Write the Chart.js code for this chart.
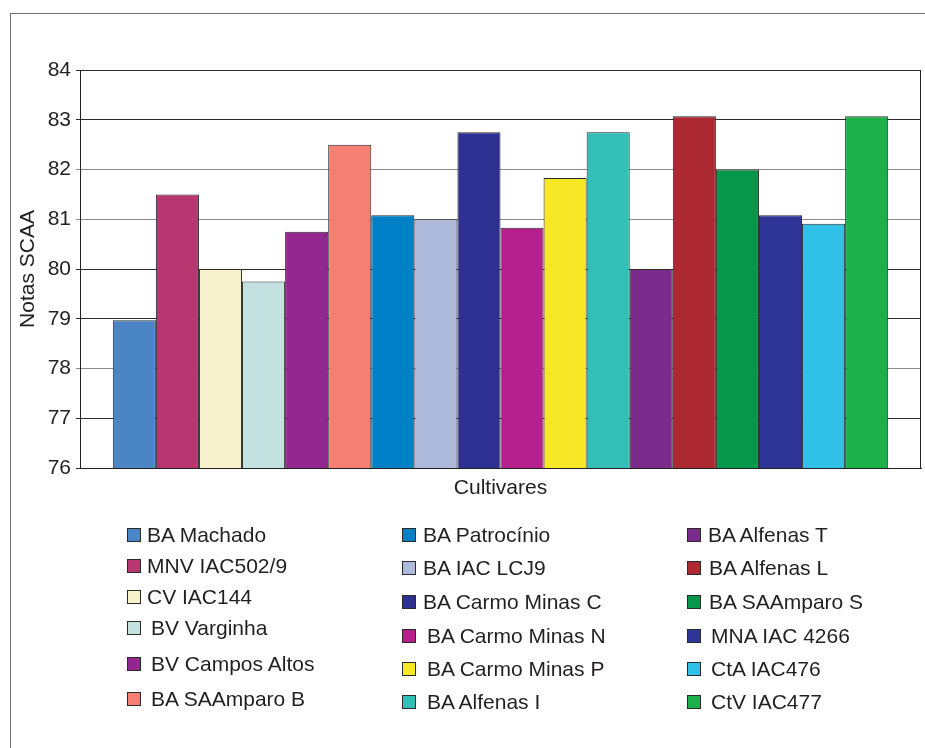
<!DOCTYPE html>
<html lang="pt">
<head>
<meta charset="utf-8">
<title>Notas SCAA por cultivar</title>
<script src="https://cdn.jsdelivr.net/npm/chart.js@4.4.1/dist/chart.umd.min.js"></script>
<style>
  html, body { margin: 0; padding: 0; background: #fff; }
  body { width: 925px; height: 748px; position: relative; overflow: hidden;
         font-family: Arial, "Liberation Sans", Helvetica, sans-serif; color: #231f20; }
  #frame { position: absolute; left: 10px; top: 13px; width: 930px; height: 760px;
           border-top: 1px solid #6e6e6e; border-left: 1px solid #6e6e6e; }
  #wrap { position: absolute; left: 0; top: 0; width: 925px; height: 748px; }
  .lg-item { position: absolute; height: 24px; line-height: 24px; font-size: 21px; white-space: nowrap; }
  .lg-box { position: absolute; width: 12px; height: 12px; border: 1px solid #2b2b2b; }
</style>
</head>
<body>
<div id="frame"></div>
<div id="wrap"><canvas id="chart" width="925" height="748"></canvas></div>
<div id="legend"></div>
<script>
// Cultivares / origins
const cultivares = [
  'BA Machado', 'MNV IAC502/9', 'CV IAC144', 'BV Varginha', 'BV Campos Altos', 'BA SAAmparo B',
  'BA Patrocínio', 'BA IAC LCJ9', 'BA Carmo Minas C', 'BA Carmo Minas N', 'BA Carmo Minas P', 'BA Alfenas I',
  'BA Alfenas T', 'BA Alfenas L', 'BA SAAmparo S', 'MNA IAC 4266', 'CtA IAC476', 'CtV IAC477'
];

// SCAA cupping scores
const notasSCAA = [
  78.97, 81.5, 80.0, 79.75, 80.75, 82.5,
  81.08, 81.0, 82.75, 80.83, 81.83, 82.75,
  80.0, 83.07, 82.0, 81.08, 80.91, 83.07
];

// Y axis range and tick step
const yMin = 76;
const yMax = 84;
const yStep = 1;

// Bar colours, in the same order as the cultivares
const palette = [
  '#4a86c6', '#b83770', '#f8f2cc', '#c2e1e0', '#93278f', '#f47f72',
  '#0080c6', '#adbadc', '#2e3192', '#b5208e', '#f7e827', '#32bfb8',
  '#7a2b8b', '#ad2931', '#06974a', '#2e3597', '#31c1e8', '#1cb04b'
];

const FONT = 'Arial, "Liberation Sans", Helvetica, sans-serif';
const INK = '#231f20';

const datasets = cultivares.map((name, i) => ({
  label: name,
  data: [notasSCAA[i]],
  backgroundColor: palette[i],
  borderColor: '#2b2b2b',
  borderWidth: 1,
  borderSkipped: false,
  barPercentage: 1.0,
  categoryPercentage: 0.922
}));

// Closes the plot box on its right side
const plotBox = {
  id: 'plotBox',
  beforeDatasetsDraw(chart) {
    const { ctx, chartArea: a } = chart;
    ctx.save();
    ctx.strokeStyle = INK;
    ctx.lineWidth = 1;
    ctx.beginPath();
    ctx.moveTo(Math.round(a.right) - 0.5, a.top);
    ctx.lineTo(Math.round(a.right) - 0.5, a.bottom);
    ctx.stroke();
    ctx.restore();
  }
};

const chart = new Chart(document.getElementById('chart'), {
  type: 'bar',
  data: { labels: [''], datasets },
  plugins: [plotBox],
  options: {
    responsive: false,
    animation: false,
    layout: { padding: { left: 10, right: 4, top: 70, bottom: 247 } },
    plugins: { legend: { display: false }, tooltip: { enabled: false } },
    scales: {
      x: {
        ticks: { display: false },
        grid: { display: false },
        border: { display: true, color: INK, width: 1 },
        title: {
          display: true, text: 'Cultivares', color: INK,
          font: { family: FONT, size: 21 }, padding: { top: 0, bottom: 0 }
        },
        afterFit(scale) { scale.height = 33; }
      },
      y: {
        min: yMin, max: yMax,
        ticks: { stepSize: yStep, color: INK, padding: 5, font: { family: FONT, size: 21 } },
        grid: {
          tickLength: 4,
          lineWidth: 1,
          color: (c) => {
            const v = c.tick && c.tick.value;
            return (v === 82 || v === 81 || v === 78) ? '#8a8a8a' : '#2b2b2b';
          }
        },
        border: { display: true, color: INK, width: 1 },
        title: {
          display: true, text: 'Notas SCAA', color: INK,
          font: { family: FONT, size: 21 }, padding: { top: 6, bottom: 0 }
        },
        afterFit(scale) { scale.width = 70; }
      }
    }
  }
});

// Legend: three columns of six entries, filled column by column
const legendCols = [
  { box: 127, text: [147, 147, 147, 151, 151, 151], rows: [535, 566, 597, 628, 664, 699] },
  { box: 402, text: [423, 423, 423, 427, 427, 427], rows: [535, 568, 602, 636, 669, 702] },
  { box: 687, text: [708, 709, 709, 711, 711, 711], rows: [535, 568, 602, 636, 669, 702] }
];
const legendEl = document.getElementById('legend');
chart.data.datasets.forEach((ds, i) => {
  const col = legendCols[Math.floor(i / 6)];
  const r = i % 6;
  const cy = col.rows[r];
  const box = document.createElement('div');
  box.className = 'lg-box';
  box.style.left = col.box + 'px';
  box.style.top = (cy - 7) + 'px';
  box.style.background = ds.backgroundColor;
  const txt = document.createElement('div');
  txt.className = 'lg-item';
  txt.style.left = col.text[r] + 'px';
  txt.style.top = (cy - 12) + 'px';
  txt.textContent = ds.label;
  legendEl.appendChild(box);
  legendEl.appendChild(txt);
});
</script>
</body>
</html>
